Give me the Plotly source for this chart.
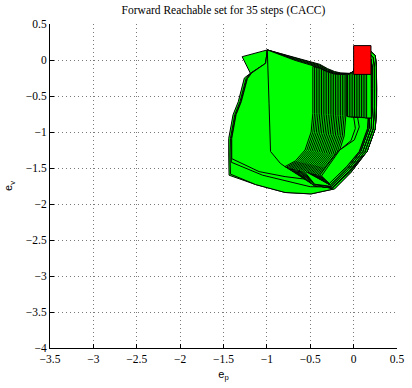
import plotly.graph_objects as go

# ---------------- data (vertices) ----------------
init_x = [0.0, 0.2, 0.2, 0.0, 0.0]
init_y = [-0.2, -0.2, 0.2, 0.2, -0.2]

# shared top boundary of the reachable sets
top_curve = [(-0.995, 0.14), (-0.675, 0.035), (-0.39, -0.06), (-0.30, -0.12),
             (-0.22, -0.16), (-0.147, -0.18), (-0.05, -0.185), (-0.01, -0.165),
             (0.01, -0.12)]
# how far each outer set's top sits under the shared top (per top point)
top_drop = [
    [0, 0, 0, 0, 0, 0, 0, 0, 0],
    [0, 0.01, 0.012, 0.01, 0.008, 0.005, 0.003, 0.002, 0.002],
    [0, 0.02, 0.024, 0.02, 0.015, 0.01, 0.006, 0.004, 0.004],
    [0, 0.03, 0.036, 0.03, 0.022, 0.014, 0.009, 0.006, 0.006],
    [0, 0.04, 0.048, 0.04, 0.03, 0.018, 0.012, 0.008, 0.008],
]
stripe_top_drop = [0, 0.056, 0.056, 0.046, 0.036, 0.022, 0.014, 0.01, 0.01]

# shared right boundary
right_curve = [(0.08, 0.0), (0.205, 0.11), (0.25, 0.06), (0.262, -0.1),
               (0.266, -0.4), (0.264, -0.65), (0.25, -0.95), (0.155, -1.27)]
outer_bottom = [(-0.03, -1.56), (-0.22, -1.79), (-0.49, -1.86), (-0.79, -1.84),
                (-1.13, -1.73)]

# left / bottom parts of the outer sets (after the right boundary)
outer_rest = [
    outer_bottom + [(-1.35, -1.64), (-1.436, -1.60), (-1.44, -1.32), (-1.44, -1.09),
                    (-1.39, -0.76), (-1.33, -0.58), (-1.26, -0.25), (-1.19, -0.185),
                    (-1.285, 0.046), (-1.14, 0.095)],
    outer_bottom + [(-1.34, -1.63), (-1.42, -1.585), (-1.425, -1.32), (-1.42, -1.09),
                    (-1.37, -0.76), (-1.31, -0.58), (-1.24, -0.26), (-1.19, -0.185),
                    (-1.014, -0.046)],
    [(-0.04, -1.55), (-0.24, -1.765), (-0.5, -1.76), (-0.83, -1.67), (-1.05, -1.60),
     (-1.41, -1.42), (-1.41, -1.09), (-1.36, -0.76), (-1.30, -0.58), (-1.23, -0.26),
     (-1.18, -0.18), (-1.014, -0.046)],
    [(-0.045, -1.545), (-0.25, -1.745), (-0.49, -1.665), (-0.79, -1.62), (-1.09, -1.55),
     (-1.405, -1.37), (-1.405, -1.09), (-1.355, -0.76), (-1.295, -0.58), (-1.225, -0.26),
     (-1.175, -0.18), (-1.014, -0.046)],
    [(-0.05, -1.55), (-0.25, -1.79), (-0.45, -1.72), (-0.64, -1.59), (-0.79, -1.482),
     (-0.845, -1.435), (-0.958, -1.27), (-0.975, -0.6)],
]

# stripe sets: left edge x, left boundary (knee -> lower-left corner)
stripe_left_x = [-0.47, -0.45, -0.43, -0.41, -0.39, -0.37, -0.35, -0.33, -0.31, -0.29,
                 -0.27, -0.25, -0.23, -0.21, -0.19, -0.17, -0.15, -0.13, -0.11, -0.09,
                 -0.08, -0.07]
stripe_left_edge = [
    [(-0.47, -0.74), (-0.49, -1.00), (-0.56, -1.25), (-0.67, -1.40), (-0.79, -1.48)],
    [(-0.45, -0.742), (-0.47, -1.003), (-0.54, -1.254), (-0.65, -1.405), (-0.77, -1.486)],
    [(-0.43, -0.744), (-0.45, -1.006), (-0.52, -1.258), (-0.63, -1.41), (-0.75, -1.492)],
    [(-0.41, -0.746), (-0.43, -1.009), (-0.50, -1.262), (-0.61, -1.415), (-0.73, -1.498)],
    [(-0.39, -0.748), (-0.41, -1.012), (-0.48, -1.266), (-0.59, -1.42), (-0.71, -1.504)],
    [(-0.37, -0.75), (-0.39, -1.015), (-0.46, -1.27), (-0.57, -1.425), (-0.69, -1.51)],
    [(-0.35, -0.752), (-0.37, -1.018), (-0.44, -1.274), (-0.55, -1.43), (-0.67, -1.516)],
    [(-0.33, -0.754), (-0.35, -1.021), (-0.42, -1.278), (-0.53, -1.435), (-0.65, -1.522)],
    [(-0.31, -0.756), (-0.33, -1.024), (-0.40, -1.282), (-0.51, -1.44), (-0.63, -1.528)],
    [(-0.29, -0.758), (-0.31, -1.027), (-0.38, -1.286), (-0.49, -1.445), (-0.61, -1.534)],
    [(-0.27, -0.76), (-0.29, -1.03), (-0.36, -1.29), (-0.47, -1.45), (-0.59, -1.54)],
    [(-0.25, -0.762), (-0.27, -1.033), (-0.34, -1.294), (-0.45, -1.455), (-0.57, -1.546)],
    [(-0.23, -0.764), (-0.25, -1.036), (-0.32, -1.298), (-0.43, -1.46), (-0.55, -1.552)],
    [(-0.21, -0.766), (-0.23, -1.039), (-0.30, -1.302), (-0.41, -1.465), (-0.53, -1.558)],
    [(-0.19, -0.768), (-0.21, -1.042), (-0.28, -1.306), (-0.39, -1.47), (-0.51, -1.564)],
    [(-0.17, -0.77), (-0.19, -1.045), (-0.26, -1.31), (-0.37, -1.475), (-0.49, -1.57)],
    [(-0.15, -0.772), (-0.17, -1.048), (-0.24, -1.314), (-0.35, -1.48), (-0.47, -1.576)],
    [(-0.13, -0.774), (-0.15, -1.051), (-0.22, -1.318), (-0.33, -1.485), (-0.45, -1.582)],
    [(-0.11, -0.776), (-0.13, -1.054), (-0.20, -1.322), (-0.31, -1.49), (-0.43, -1.588)],
    [(-0.09, -0.778), (-0.11, -1.057), (-0.18, -1.326), (-0.29, -1.495), (-0.41, -1.594)],
    [(-0.08, -0.78), (0.0, -0.785), (0.02, -0.95), (-0.03, -1.12), (-0.19, -1.28),
     (-0.26, -1.40), (-0.39, -1.60)],
    [(-0.07, -0.787), (0.045, -0.79), (0.065, -0.93), (0.008, -1.11), (-0.16, -1.25),
     (-0.22, -1.35), (-0.37, -1.61)],
]
# right-edge inset and bottom of each stripe set (4 visible levels)
stripe_right_inset = [0.025] * 6 + [0.05] * 6 + [0.075] * 6 + [0.09] * 4
stripe_bottom = (
    [[(-0.05, -1.54), (-0.25, -1.775), (-0.45, -1.745)]] * 6 +
    [[(-0.06, -1.52), (-0.26, -1.755), (-0.45, -1.725)]] * 6 +
    [[(-0.07, -1.50), (-0.27, -1.735)]] * 6 +
    [[(-0.08, -1.48), (-0.28, -1.715)]] * 4
)

# upper strips under the initial set (left edge x, lower edge y)
strip_left_x = [-0.05, -0.03, -0.01, 0.01, 0.03, 0.05, 0.07, 0.09, 0.11, 0.13, 0.15]
strip_low_y = [-0.79, -0.79, -0.79, -0.792, -0.792, -0.795, -0.795, -0.8, -0.8, -0.805,
               -0.805]
strip_right_inset = 0.06

x_ticks = [-3.5, -3, -2.5, -2, -1.5, -1, -0.5, 0, 0.5]
y_ticks = [-4, -3.5, -3, -2.5, -2, -1.5, -1, -0.5, 0, 0.5]


# ---------------- build polygons ----------------
def dropped_top(drop):
    return [(x, y - d) for (x, y), d in zip(top_curve, drop)]


def top_from(curve, x0):
    pts = []
    for (a, b), (c, d) in zip(curve[:-1], curve[1:]):
        if a <= x0 <= c:
            t = (x0 - a) / (c - a)
            pts.append((x0, b + t * (d - b)))
    pts += [p for p in curve if p[0] > x0]
    return pts


def shifted_right(ins):
    out = []
    for x, y in right_curve:
        if x < 0.15:          # hidden under the initial set
            out.append((x, y))
        else:
            out.append((x - ins, y - (ins if y > -0.1 else 0)))
    return out


polys = []
for k, rest in enumerate(outer_rest):
    polys.append(dropped_top(top_drop[k]) + right_curve + rest)

stripe_top = dropped_top(stripe_top_drop)
for k, x0 in enumerate(stripe_left_x):
    polys.append(top_from(stripe_top, x0) + shifted_right(stripe_right_inset[k]) +
                 stripe_bottom[k] + stripe_left_edge[k][::-1])

for x0, y_low in zip(strip_left_x, strip_low_y):
    if x0 < 0.01:
        start = top_from(stripe_top, x0)
    else:
        start = [(x0, -0.19)]
    rc = [p for p in shifted_right(strip_right_inset) if p[1] > y_low and p[0] > x0]
    polys.append(start + rc + [(0.204, y_low), (x0, y_low)])

fig = go.Figure()
for poly in polys:
    xs = [p[0] for p in poly] + [poly[0][0]]
    ys = [p[1] for p in poly] + [poly[0][1]]
    fig.add_trace(go.Scatter(x=xs, y=ys, mode="lines", fill="toself",
                             fillcolor="#00ff00", line=dict(color="black", width=1),
                             hoverinfo="skip", showlegend=False))
fig.add_trace(go.Scatter(x=init_x, y=init_y, mode="lines", fill="toself",
                         fillcolor="#ff0000", line=dict(color="black", width=1),
                         hoverinfo="skip", showlegend=False))

axis_common = dict(showline=True, linecolor="black", linewidth=1, mirror=False,
                   ticks="inside", ticklen=4, tickcolor="black", showgrid=True,
                   gridcolor="#7a7a7a", griddash="1px,3px", gridwidth=1, zeroline=False,
                   tickfont=dict(family="Liberation Serif", size=11.5, color="black"))

fig.update_layout(
    width=412, height=388,
    margin=dict(l=50, r=8, t=24, b=40),
    paper_bgcolor="white", plot_bgcolor="white",
    title=dict(text="Forward Reachable set for 35 steps (CACC)",
               font=dict(family="Liberation Serif", size=11.5, color="black"),
               x=0.5, xref="paper", xanchor="center",
               y=1 - 10 / 388, yref="container", yanchor="middle"),
    xaxis=dict(range=[-3.5, 0.5], tickvals=x_ticks,
               title=dict(text="e<sub>p</sub>", standoff=6,
                          font=dict(family="Liberation Sans", size=11, color="black")),
               **axis_common),
    yaxis=dict(range=[-4, 0.5], tickvals=y_ticks,
               title=dict(text="e<sub>v</sub>", standoff=10,
                          font=dict(family="Liberation Sans", size=11, color="black")),
               **axis_common),
)

fig.write_html("out.html")
